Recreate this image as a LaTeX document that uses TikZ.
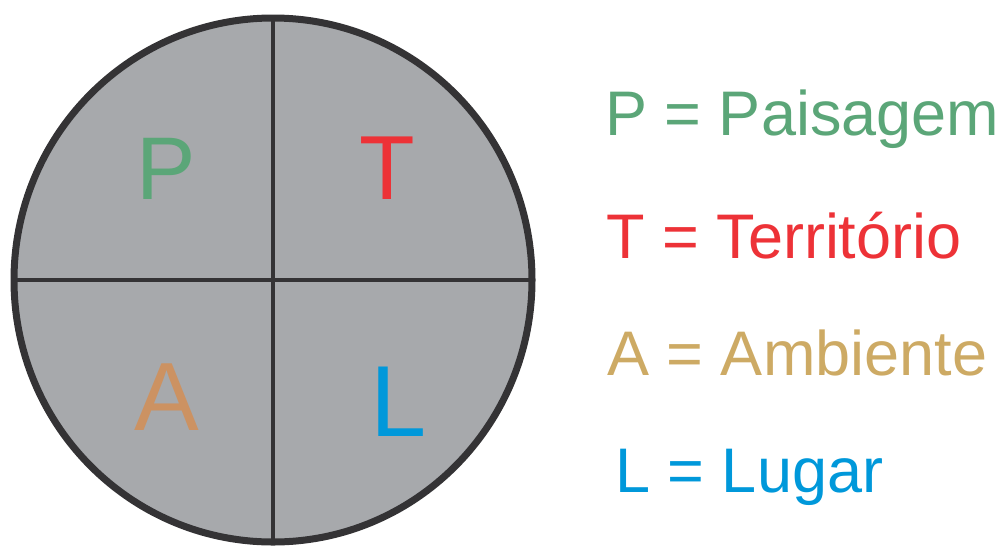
\documentclass[tikz,border=0pt]{standalone}
\usepackage{fontspec}
\setmainfont{Liberation Sans}
\definecolor{cgreen}{RGB}{91,166,120}
\definecolor{cred}{RGB}{237,50,55}
\definecolor{corange}{RGB}{204,146,98}
\definecolor{ctan}{RGB}{205,170,100}
\definecolor{cblue}{RGB}{0,152,218}
\definecolor{cgray}{RGB}{167,169,172}
\definecolor{cdark}{RGB}{52,51,53}
\begin{document}
\begin{tikzpicture}[x=1pt,y=-1pt,
  letter/.style={anchor=base west,inner sep=0pt},
  legend/.style={anchor=base west,inner sep=0pt,font=\fontsize{63}{70}\selectfont}]
\useasboundingbox (0,0) rectangle (1008,547);
\coordinate (c) at (273,280);
\draw[cdark,line width=7pt,fill=cgray] (c) ellipse[x radius=259,y radius=262];
\coordinate (top) at (273,20);
\coordinate (bot) at (273,540);
\coordinate (lft) at (14,280);
\coordinate (rgt) at (532,280);
\draw[cdark,line width=3.5pt] (top) -- (bot);
\draw[cdark,line width=3.5pt] (lft) -- (rgt);
\node[letter,text=cgreen,font=\fontsize{89}{95}\selectfont] (p) at (136,199) {P};
\node[letter,text=cred,font=\fontsize{91}{95}\selectfont] (t) at (359,199) {T};
\node[letter,text=corange,font=\fontsize{97}{100}\selectfont] (a) at (134,430) {A};
\node[letter,text=cblue,font=\fontsize{101}{105}\selectfont] (l) at (370,436) {L};
\node[legend,text=cgreen] (lp) at (605,135) {P = Paisagem};
\node[legend,text=cred] (lt) at (606,258) {T = Território};
\node[legend,text=ctan] (la) at (607,375) {A = Ambiente};
\node[legend,text=cblue] (ll) at (615,492) {L = Lugar};
\end{tikzpicture}
\end{document}
